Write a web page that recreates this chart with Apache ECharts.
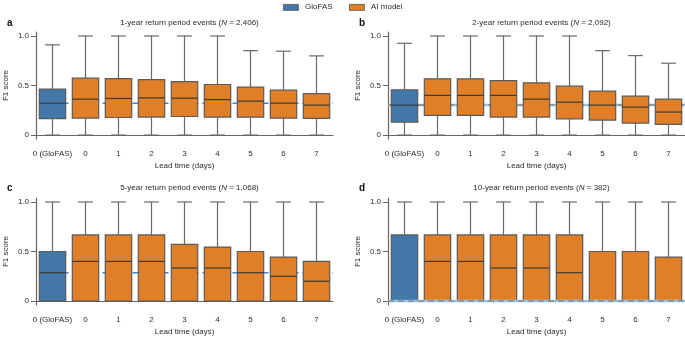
<!DOCTYPE html>
<html>
<head>
<meta charset="utf-8">
<script src="https://cdn.jsdelivr.net/npm/echarts@6/dist/echarts.min.js"></script>
<style>
html,body{margin:0;padding:0;background:#fff;}
#chart{width:685px;height:338px;}
</style>
</head>
<body>
<div id="chart"></div>
<script>
// ---- data ----
const categories = ['0 (GloFAS)', '0', '1', '2', '3', '4', '5', '6', '7'];
// each entry: [min, Q1, median, Q3, max]
const rp1Stats = [
  [0, 0.165, 0.322, 0.463, 0.91],
  [0, 0.171, 0.362, 0.574, 1.0],
  [0, 0.177, 0.369, 0.570, 1.0],
  [0, 0.181, 0.375, 0.560, 1.0],
  [0, 0.187, 0.372, 0.540, 1.0],
  [0, 0.181, 0.358, 0.510, 1.0],
  [0, 0.180, 0.342, 0.483, 0.852],
  [0, 0.171, 0.322, 0.453, 0.846],
  [0, 0.168, 0.302, 0.419, 0.799]
];
const rp2Stats = [
  [0, 0.131, 0.302, 0.456, 0.926],
  [0, 0.198, 0.400, 0.567, 1.0],
  [0, 0.198, 0.400, 0.567, 1.0],
  [0, 0.181, 0.400, 0.550, 1.0],
  [0, 0.181, 0.362, 0.527, 1.0],
  [0, 0.164, 0.332, 0.493, 1.0],
  [0, 0.151, 0.302, 0.443, 0.852],
  [0, 0.121, 0.282, 0.392, 0.802],
  [0, 0.107, 0.232, 0.362, 0.725]
];
const rp5Stats = [
  [0, 0, 0.286, 0.500, 1.0],
  [0, 0, 0.400, 0.667, 1.0],
  [0, 0, 0.400, 0.667, 1.0],
  [0, 0, 0.400, 0.667, 1.0],
  [0, 0, 0.333, 0.571, 1.0],
  [0, 0, 0.333, 0.545, 1.0],
  [0, 0, 0.286, 0.500, 1.0],
  [0, 0, 0.250, 0.444, 1.0],
  [0, 0, 0.200, 0.400, 1.0]
];
const rp10Stats = [
  [0, 0, 0, 0.667, 1.0],
  [0, 0, 0.400, 0.667, 1.0],
  [0, 0, 0.400, 0.667, 1.0],
  [0, 0, 0.333, 0.667, 1.0],
  [0, 0, 0.333, 0.667, 1.0],
  [0, 0, 0.286, 0.667, 1.0],
  [0, 0, 0, 0.500, 1.0],
  [0, 0, 0, 0.500, 1.0],
  [0, 0, 0, 0.444, 1.0]
];
const panelLetters = ['a', 'b', 'c', 'd'];
const returnPeriods = ['1-year', '2-year', '5-year', '10-year'];
const eventCounts = ['2,406', '2,092', '1,068', '382'];
const yTicks = [0, 0.5, 1.0];
const legendNames = ['GloFAS', 'AI model'];

// ---- styles ----
const BLUE = '#4277a8';
const ORANGE = '#e07f27';
const EDGE = '#5a5a5a';
const WHISK = '#6a6a6a';
const MEDC = '#3d3a36';
const AXIS = '#666666';
const TXT = '#2b2b2b';
const FONT = '"Liberation Sans", Arial, sans-serif';
const FS = 8;

const allStats = [rp1Stats, rp2Stats, rp5Stats, rp10Stats];
const grids = [
  {left: 36, top: 32, width: 297, height: 107},
  {left: 388, top: 32, width: 297, height: 107},
  {left: 36, top: 198, width: 297, height: 107},
  {left: 388, top: 198, width: 297, height: 107}
];
const titleTops = [14, 14, 179, 179];
// reference line style per panel
const refStyle = [
  {mode: 'dash'}, {mode: 'double'}, {mode: 'dash'}, {mode: 'double', top: true}
];

function boxRender(params, api) {
  const idx = api.value(0);
  const mn = api.coord([idx, api.value(1)]);
  const q1 = api.coord([idx, api.value(2)]);
  const md = api.coord([idx, api.value(3)]);
  const q3 = api.coord([idx, api.value(4)]);
  const mx = api.coord([idx, api.value(5)]);
  const band = api.size([1, 0])[0];
  const bw = band * 0.8;
  const cw = band * 0.45;
  const x = mn[0];
  const fill = idx === 0 ? BLUE : ORANGE;
  const ln = (x1, y1, x2, y2, c, w) => ({type: 'line', shape: {x1, y1, x2, y2}, style: {stroke: c, lineWidth: w}});
  return {type: 'group', children: [
    ln(x, q3[1], x, mx[1], WHISK, 1.2),
    ln(x, q1[1], x, mn[1], WHISK, 1.2),
    ln(x - cw / 2, mx[1], x + cw / 2, mx[1], WHISK, 1.2),
    ln(x - cw / 2, mn[1], x + cw / 2, mn[1], WHISK, 1.2),
    {type: 'rect', shape: {x: x - bw / 2, y: q3[1], width: bw, height: Math.max(q1[1] - q3[1], 0)},
     style: {fill: fill, stroke: EDGE, lineWidth: 1.2}},
    ln(x - bw / 2, md[1], x + bw / 2, md[1], MEDC, 1.2)
  ]};
}

function refRender(mode) {
  return function (params, api) {
    const cs = params.coordSys;
    const p = api.coord([0, api.value(1)]);
    const y = p[1];
    const xEnd = cs.x + cs.width;
    if (mode === 'dash') {
      return {type: 'line', shape: {x1: p[0], y1: y, x2: xEnd, y2: y},
        style: {stroke: '#3b8ad3', lineWidth: 1.5, lineDash: [6, 4]}};
    }
    return {type: 'group', children: [
      {type: 'line', shape: {x1: cs.x, y1: y, x2: xEnd, y2: y},
        style: {stroke: '#94c1e6', lineWidth: 2.5}},
      {type: 'line', shape: {x1: cs.x, y1: y, x2: xEnd, y2: y},
        style: {stroke: '#8a8a8a', lineWidth: 1.5, lineDash: [6, 4]}}
    ]};
  };
}

const option = {
  animation: false,
  backgroundColor: '#fff',
  textStyle: {fontFamily: FONT},
  grid: grids.map(g => Object.assign({containLabel: false}, g)),
  title: [],
  xAxis: [],
  yAxis: [],
  series: [],
  graphic: []
};

grids.forEach((g, i) => {
  option.xAxis.push({
    type: 'category', gridIndex: i, data: categories, boundaryGap: true,
    axisLine: {lineStyle: {color: AXIS, width: 1.2}},
    axisTick: {alignWithLabel: true, length: 4, lineStyle: {color: AXIS}},
    axisLabel: {color: TXT, fontSize: FS, margin: 11, interval: 0, fontFamily: FONT},
    name: 'Lead time (days)', nameLocation: 'middle', nameGap: 23,
    nameTextStyle: {color: TXT, fontSize: FS, fontFamily: FONT},
    splitLine: {show: false}
  });
  option.yAxis.push({
    type: 'value', gridIndex: i, min: -0.04, max: 1.04,
    axisLine: {show: true, lineStyle: {color: AXIS, width: 1.2}},
    axisTick: {show: true, length: 5, customValues: yTicks, lineStyle: {color: AXIS}},
    axisLabel: {color: TXT, fontSize: FS, margin: 7, fontFamily: FONT, customValues: yTicks,
      formatter: v => (v === 0 ? '0' : v.toFixed(1))},
    splitLine: {show: false},
    name: 'F1 score', nameLocation: 'middle', nameGap: 26, nameRotate: 90,
    nameTextStyle: {color: TXT, fontSize: FS, fontFamily: FONT}
  });
  const stats = allStats[i];
  const rs = refStyle[i];
  option.series.push({
    type: 'custom', xAxisIndex: i, yAxisIndex: i, z: rs.top ? 5 : 1,
    renderItem: refRender(rs.mode), silent: true,
    data: [[0, stats[0][2]]]
  });
  option.series.push({
    type: 'custom', xAxisIndex: i, yAxisIndex: i, z: 3,
    renderItem: boxRender,
    encode: {x: 0, y: [1, 2, 3, 4, 5]},
    data: stats.map((s, k) => [k].concat(s))
  });
  // panel letter
  option.title.push({
    text: panelLetters[i], left: i % 2 === 0 ? 2 : 354, top: titleTops[i] - 1,
    textStyle: {fontSize: 10, fontWeight: 'bold', color: '#111', fontFamily: FONT}
  });
  // title
  option.title.push({
    text: returnPeriods[i] + ' return period events ({it|N} = ' + eventCounts[i] + ')',
    left: g.left + g.width / 2, top: titleTops[i], textAlign: 'center',
    textStyle: {fontSize: FS, fontWeight: 'normal', color: TXT, fontFamily: FONT,
      rich: {it: {fontStyle: 'italic', fontSize: FS, color: TXT, fontFamily: FONT}}}
  });
});

// legend
const legendItems = [
  {x: 283, color: BLUE, name: legendNames[0]},
  {x: 349, color: ORANGE, name: legendNames[1]}
];
legendItems.forEach(it => {
  option.graphic.push({type: 'rect', left: it.x, top: 4, shape: {width: 15, height: 6},
    style: {fill: it.color, stroke: '#555', lineWidth: 0.8}});
  option.graphic.push({type: 'text', left: it.x + 22, top: 3,
    style: {text: it.name, fill: TXT, fontSize: FS, fontFamily: FONT}});
});

const chart = echarts.init(document.getElementById('chart'), null, {renderer: 'canvas'});
chart.setOption(option);
</script>
</body>
</html>
